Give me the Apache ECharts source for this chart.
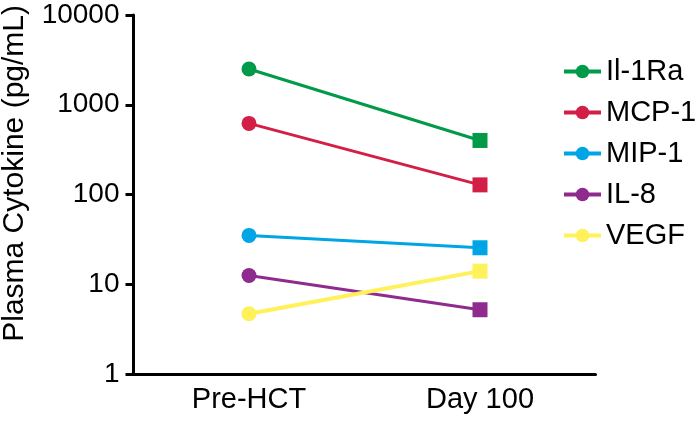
<!DOCTYPE html>
<html>
<head>
<meta charset="utf-8">
<script src="https://cdn.jsdelivr.net/npm/echarts@6/dist/echarts.min.js"></script>
<style>
html,body{margin:0;padding:0;background:#fff;}
#c{width:700px;height:423px;}
</style>
</head>
<body>
<div id="c"></div>
<script>
var categories = ['Pre-HCT', 'Day 100'];
var seriesNames = ['Il-1Ra', 'MCP-1', 'MIP-1', 'IL-8', 'VEGF'];
var il1ra = [2500, 400];
var mcp1 = [620, 128];
var mip1 = [35, 25.5];
var il8 = [12.5, 5.2];
var vegf = [4.7, 14];
var yTicks = [1, 10, 100, 1000, 10000];

var colors = ['#009A48', '#D31F45', '#00A5E5', '#8F2A8E', '#FFF159'];
var values = [il1ra, mcp1, mip1, il8, vegf];
var FONT = 'Liberation Sans, Arial, sans-serif';

var series = seriesNames.map(function (name, i) {
  return {
    name: name,
    type: 'line',
    symbol: 'circle',
    symbolSize: 15,
    showSymbol: true,
    lineStyle: { color: colors[i], width: i === 4 ? 4 : 3 },
    itemStyle: { color: colors[i] },
    emphasis: { disabled: true },
    data: values[i].map(function (v, j) {
      return j === 1 ? { value: v, symbol: 'rect', symbolSize: 15 } : { value: v };
    })
  };
});

var chart = echarts.init(document.getElementById('c'), null, { renderer: 'canvas' });
chart.setOption({
  animation: false,
  backgroundColor: '#ffffff',
  grid: { left: 133.5, right: 104.5, top: 15, bottom: 49, containLabel: false },
  legend: {
    orient: 'vertical',
    left: 557,
    top: 52,
    itemWidth: 37,
    itemHeight: 17,
    itemGap: 12,
    data: seriesNames,
    lineStyle: { width: 4 },
    textStyle: { fontFamily: FONT, fontSize: 29, color: '#000' }
  },
  xAxis: {
    type: 'category',
    data: categories,
    boundaryGap: true,
    axisLine: { lineStyle: { color: '#000', width: 3 } },
    axisTick: { alignWithLabel: true, length: 9, lineStyle: { color: '#000', width: 3 } },
    axisLabel: { fontFamily: FONT, fontSize: 29, color: '#000', margin: 11 },
    splitLine: { show: false }
  },
  yAxis: {
    type: 'log',
    logBase: 10,
    min: yTicks[0],
    max: yTicks[yTicks.length - 1],
    axisLine: { show: true, lineStyle: { color: '#000', width: 3 } },
    axisTick: { show: true, length: 8, lineStyle: { color: '#000', width: 3 } },
    axisLabel: {
      fontFamily: FONT, fontSize: 28, color: '#000', margin: 14,
      formatter: function (v) { return String(Math.round(v)); }
    },
    splitLine: { show: false }
  },
  graphic: [{
    type: 'text',
    left: 0,
    top: 5,
    rotation: Math.PI / 2,
    style: {
      text: 'Plasma Cytokine (pg/mL)',
      font: '30px ' + FONT,
      fill: '#000'
    }
  }],
  series: series
});
</script>
</body>
</html>
